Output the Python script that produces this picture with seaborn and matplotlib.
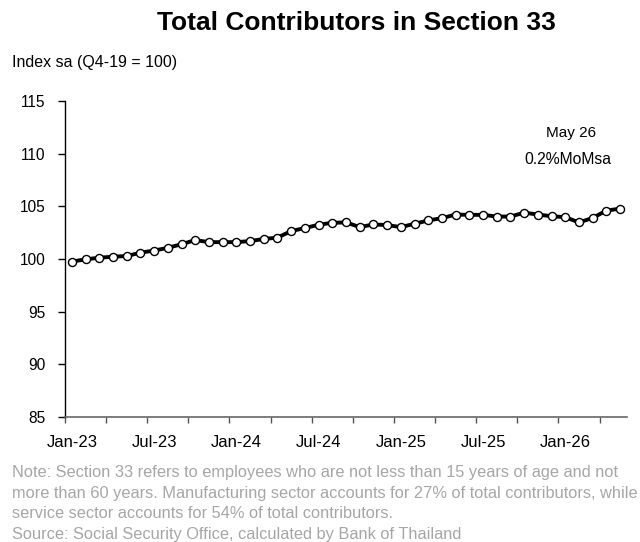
import matplotlib
matplotlib.use("Agg")
import matplotlib.pyplot as plt
import seaborn as sns
import pandas as pd
import numpy as np

months = pd.date_range("2023-01-01", "2026-05-01", freq="MS").strftime("%b-%y").tolist()
index_sa = [99.75, 99.97, 100.12, 100.22, 100.28, 100.60, 100.80, 101.06, 101.40, 101.80,
            101.60, 101.60, 101.60, 101.70, 101.90, 102.03, 102.65, 102.94, 103.25, 103.44,
            103.47, 103.03, 103.28, 103.22, 103.03, 103.34, 103.66, 103.88, 104.22, 104.19,
            104.19, 104.03, 104.03, 104.40, 104.22, 104.06, 103.97, 103.47, 103.90, 104.60,
            104.78]
tick_labels = ["Jan-23", "Jul-23", "Jan-24", "Jul-24", "Jan-25", "Jul-25", "Jan-26"]
yticks = [85, 90, 95, 100, 105, 110, 115]

df = pd.DataFrame({"pos": np.arange(len(months)), "month": months, "value": index_sa})

sns.set_style("white")
plt.rcParams["font.family"] = ["Liberation Sans", "DejaVu Sans"]
plt.rcParams["text.color"] = "black"
plt.rcParams["xtick.color"] = "black"
plt.rcParams["ytick.color"] = "black"

fig = plt.figure(figsize=(6.4, 5.42), dpi=100)
ax = fig.add_axes([65/640, 1-417/542, 562/640, 316/542])

sns.lineplot(data=df, x="pos", y="value", ax=ax, color="black", linewidth=2.8,
             marker="o", markersize=5.8, markerfacecolor="white",
             markeredgecolor="black", markeredgewidth=1.0)

ax.set_xlim(-0.5, len(months) - 0.5)
ax.set_ylim(85, 115)
ax.set_yticks(yticks)
ax.set_yticklabels([str(v) for v in yticks], fontsize=11.2)

# category boundaries as tick marks, labels centered on categories
ax.set_xticks(np.arange(-0.5, len(months), 3))
ax.set_xticklabels([])
label_pos = [months.index(l) for l in tick_labels]
ax.set_xticks(label_pos, minor=True)
ax.set_xticklabels(tick_labels, minor=True, fontsize=12)
ax.tick_params(axis="x", which="major", bottom=True, direction="out", length=4, width=1,
               color="#555555")
ax.tick_params(axis="x", which="minor", bottom=True, length=0, pad=13, labelcolor="black")
ax.tick_params(axis="y", left=True, direction="out", length=5, width=1, color="black",
               pad=9, labelcolor="black")

for s in ["top", "right"]:
    ax.spines[s].set_visible(False)
ax.spines["left"].set_color("black")
ax.spines["left"].set_linewidth(1)
ax.spines["bottom"].set_color("#666666")
ax.spines["bottom"].set_linewidth(1.2)
ax.set_xlabel("")
ax.set_ylabel("")

fig.text(356/640, 1-23/542, "Total Contributors in Section 33", ha="center", va="center",
         fontsize=19, fontweight="bold")
fig.text(12/640, 1-63/542, "Index sa (Q4-19 = 100)", ha="left", va="center", fontsize=11.5)
fig.text(571/640, 1-133/542, "May 26", ha="center", va="center", fontsize=11)
fig.text(568/640, 1-160/542, "0.2%MoMsa", ha="center", va="center", fontsize=11.3)

note = ("Note: Section 33 refers to employees who are not less than 15 years of age and not\n"
        "more than 60 years. Manufacturing sector accounts for 27% of total contributors, while\n"
        "service sector accounts for 54% of total contributors.\n"
        "Source: Social Security Office, calculated by Bank of Thailand")
fig.text(12/640, 1-465/542, note, ha="left", va="top", fontsize=11.75, color="#a6a6a6",
         linespacing=1.47)

fig.savefig("out.png", dpi=100)
